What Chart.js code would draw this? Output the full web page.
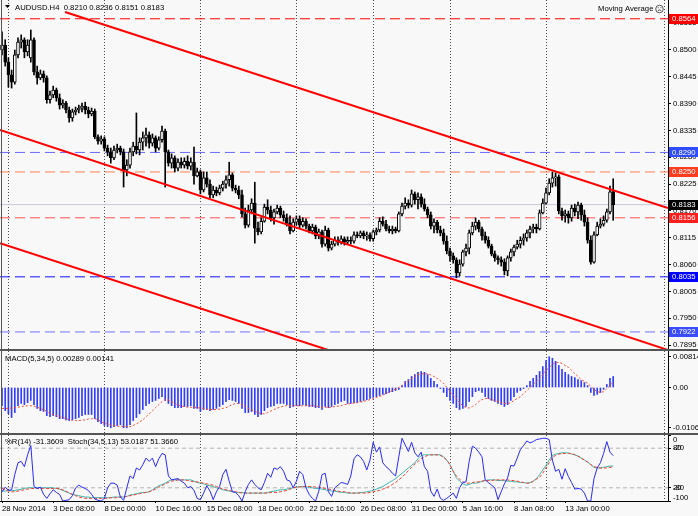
<!DOCTYPE html>
<html><head><meta charset="utf-8">
<script src="https://cdn.jsdelivr.net/npm/chart.js@4/dist/chart.umd.min.js"></script>
<style>
html,body{margin:0;padding:0;background:#f8f8f8;}
body{width:698px;height:516px;overflow:hidden;position:relative;}
canvas{position:absolute;left:0;}
.sep{position:absolute;left:0;width:698px;height:2px;background:#555;}
</style></head>
<body>
<canvas id="cMain" width="698" height="350" style="top:0"></canvas>
<canvas id="cMacd" width="698" height="82" style="top:351px"></canvas>
<canvas id="cOsc" width="698" height="81" style="top:435px"></canvas>
<div class="sep" style="top:349px"></div>
<div class="sep" style="top:433px"></div>
<div style="position:absolute;left:1px;top:0;width:1px;height:501px;background:#555"></div>
<script>
// ---------- DATA ----------
const symbolName = 'AUDUSD.H4';
const xLabels = ['28 Nov 2014','3 Dec 08:00','8 Dec 00:00','10 Dec 16:00','15 Dec 08:00','18 Dec 00:00','22 Dec 16:00','26 Dec 08:00','31 Dec 00:00','5 Jan 16:00','8 Jan 08:00','13 Jan 00:00'];
const xLabelBars = [0,16,32,48,64,80,96,112,128,144,160,176];
const weekStartBars = [2,32,62,92,116,140,170,207];
const priceTicks = [0.7895,0.7950,0.8005,0.8060,0.8115,0.8170,0.8225,0.8280,0.8335,0.8390,0.8445,0.8500,0.8555];
const hLevels = [0.8564,0.8290,0.8250,0.8156,0.8035,0.7922];
const channelUpper = [{x:19.7,y:0.8578},{x:208.1,y:0.8176}];
const channelMiddle = [{x:-0.625,y:0.8336},{x:208.125,y:0.7885}];
const channelLower = [{x:-0.625,y:0.8104},{x:101.9,y:0.7885}];
const macdTicks = [0.00814,0,-0.0106];
const macdTickLabels = ['0.00814','0.00','-0.01060'];
const oscLevels = [80,20];

const open = [
0.8500,0.8510,0.8475,0.8449,0.8434,0.8490,0.8516,0.8521,0.8496,0.8484,
0.8521,0.8455,0.8443,0.8451,0.8443,0.8398,0.8408,0.8418,0.8402,0.8387,
0.8391,0.8377,0.8361,0.8373,0.8377,0.8381,0.8385,0.8377,0.8369,0.8375,
0.8322,0.8313,0.8318,0.8299,0.8291,0.8279,0.8295,0.8299,0.8291,0.8254,
0.8264,0.8291,0.8303,0.8295,0.8311,0.8320,0.8326,0.8309,0.8320,0.8299,
0.8316,0.8334,0.8291,0.8268,0.8279,0.8258,0.8270,0.8264,0.8272,0.8262,
0.8270,0.8242,0.8250,0.8213,0.8238,0.8225,0.8203,0.8213,0.8207,0.8217,
0.8225,0.8234,0.8244,0.8217,0.8213,0.8203,0.8164,0.8141,0.8172,0.8186,
0.8135,0.8127,0.8149,0.8178,0.8172,0.8156,0.8168,0.8176,0.8162,0.8156,
0.8145,0.8129,0.8147,0.8154,0.8141,0.8149,0.8139,0.8129,0.8137,0.8119,
0.8127,0.8102,0.8131,0.8094,0.8102,0.8110,0.8106,0.8113,0.8106,0.8110,
0.8108,0.8121,0.8119,0.8125,0.8119,0.8121,0.8113,0.8127,0.8131,0.8149,
0.8143,0.8133,0.8129,0.8133,0.8129,0.8164,0.8180,0.8186,0.8182,0.8205,
0.8193,0.8199,0.8184,0.8174,0.8162,0.8139,0.8147,0.8131,0.8125,0.8108,
0.8088,0.8078,0.8070,0.8043,0.8061,0.8086,0.8094,0.8125,0.8139,0.8147,
0.8133,0.8119,0.8110,0.8098,0.8082,0.8074,0.8070,0.8065,0.8047,0.8074,
0.8086,0.8096,0.8102,0.8110,0.8115,0.8125,0.8133,0.8137,0.8133,0.8166,
0.8186,0.8207,0.8227,0.8238,0.8240,0.8170,0.8160,0.8164,0.8156,0.8176,
0.8168,0.8182,0.8162,0.8147,0.8110,0.8065,0.8121,0.8139,0.8143,0.8151,
0.8168,0.8210];
const high = [
0.8537,0.8521,0.8484,0.8459,0.8500,0.8525,0.8531,0.8525,0.8521,0.8541,
0.8525,0.8467,0.8459,0.8457,0.8447,0.8416,0.8426,0.8422,0.8410,0.8398,
0.8395,0.8383,0.8379,0.8383,0.8387,0.8391,0.8393,0.8383,0.8381,0.8379,
0.8326,0.8324,0.8322,0.8305,0.8299,0.8303,0.8307,0.8303,0.8297,0.8275,
0.8299,0.8311,0.8371,0.8320,0.8332,0.8340,0.8332,0.8328,0.8324,0.8322,
0.8344,0.8338,0.8295,0.8287,0.8283,0.8277,0.8279,0.8279,0.8283,0.8279,
0.8301,0.8258,0.8254,0.8250,0.8250,0.8234,0.8221,0.8219,0.8223,0.8231,
0.8242,0.8270,0.8248,0.8223,0.8221,0.8213,0.8176,0.8182,0.8195,0.8229,
0.8147,0.8156,0.8184,0.8193,0.8180,0.8174,0.8182,0.8180,0.8170,0.8164,
0.8160,0.8154,0.8160,0.8160,0.8156,0.8154,0.8143,0.8143,0.8141,0.8133,
0.8131,0.8139,0.8135,0.8108,0.8117,0.8117,0.8119,0.8117,0.8117,0.8117,
0.8127,0.8127,0.8129,0.8129,0.8127,0.8125,0.8131,0.8135,0.8156,0.8158,
0.8151,0.8139,0.8139,0.8137,0.8168,0.8186,0.8197,0.8193,0.8213,0.8209,
0.8207,0.8205,0.8195,0.8178,0.8168,0.8154,0.8151,0.8139,0.8133,0.8119,
0.8094,0.8084,0.8074,0.8070,0.8090,0.8102,0.8131,0.8147,0.8156,0.8151,
0.8137,0.8127,0.8117,0.8102,0.8088,0.8078,0.8076,0.8072,0.8078,0.8092,
0.8100,0.8110,0.8117,0.8123,0.8131,0.8139,0.8143,0.8143,0.8172,0.8195,
0.8217,0.8236,0.8250,0.8248,0.8244,0.8176,0.8172,0.8170,0.8182,0.8184,
0.8188,0.8186,0.8172,0.8156,0.8119,0.8127,0.8147,0.8154,0.8160,0.8174,
0.8221,0.8236];
const low = [
0.8490,0.8467,0.8424,0.8422,0.8430,0.8484,0.8504,0.8484,0.8488,0.8475,
0.8449,0.8430,0.8439,0.8434,0.8391,0.8391,0.8402,0.8395,0.8379,0.8381,
0.8371,0.8352,0.8354,0.8367,0.8371,0.8373,0.8369,0.8361,0.8365,0.8318,
0.8307,0.8307,0.8293,0.8283,0.8268,0.8275,0.8289,0.8285,0.8219,0.8242,
0.8258,0.8283,0.8287,0.8285,0.8295,0.8303,0.8299,0.8303,0.8291,0.8295,
0.8311,0.8219,0.8262,0.8258,0.8250,0.8252,0.8258,0.8258,0.8256,0.8254,
0.8225,0.8240,0.8205,0.8209,0.8219,0.8197,0.8197,0.8201,0.8203,0.8211,
0.8217,0.8221,0.8211,0.8207,0.8195,0.8158,0.8135,0.8137,0.8164,0.8104,
0.8121,0.8123,0.8147,0.8164,0.8149,0.8143,0.8164,0.8156,0.8149,0.8139,
0.8123,0.8127,0.8141,0.8135,0.8137,0.8133,0.8125,0.8123,0.8113,0.8113,
0.8096,0.8098,0.8088,0.8090,0.8098,0.8100,0.8102,0.8100,0.8102,0.8102,
0.8104,0.8115,0.8115,0.8113,0.8110,0.8108,0.8108,0.8121,0.8127,0.8139,
0.8129,0.8125,0.8123,0.8125,0.8127,0.8160,0.8174,0.8176,0.8178,0.8184,
0.8174,0.8178,0.8170,0.8156,0.8133,0.8125,0.8125,0.8119,0.8102,0.8082,
0.8067,0.8063,0.8033,0.8037,0.8057,0.8078,0.8082,0.8121,0.8131,0.8127,
0.8110,0.8104,0.8094,0.8078,0.8067,0.8061,0.8057,0.8039,0.8037,0.8067,
0.8078,0.8092,0.8094,0.8100,0.8108,0.8115,0.8125,0.8125,0.8131,0.8164,
0.8184,0.8203,0.8219,0.8221,0.8164,0.8151,0.8147,0.8145,0.8149,0.8160,
0.8154,0.8151,0.8139,0.8104,0.8061,0.8063,0.8119,0.8135,0.8139,0.8147,
0.8164,0.8151];
const close = [
0.8510,0.8475,0.8449,0.8434,0.8490,0.8516,0.8521,0.8496,0.8510,0.8521,
0.8455,0.8443,0.8451,0.8443,0.8398,0.8408,0.8418,0.8402,0.8387,0.8391,
0.8377,0.8361,0.8373,0.8377,0.8381,0.8385,0.8377,0.8369,0.8375,0.8322,
0.8313,0.8318,0.8299,0.8291,0.8279,0.8295,0.8299,0.8291,0.8254,0.8264,
0.8291,0.8303,0.8295,0.8311,0.8320,0.8326,0.8309,0.8320,0.8299,0.8316,
0.8334,0.8291,0.8268,0.8279,0.8258,0.8270,0.8264,0.8272,0.8262,0.8270,
0.8242,0.8250,0.8213,0.8238,0.8225,0.8203,0.8213,0.8207,0.8217,0.8225,
0.8234,0.8244,0.8217,0.8213,0.8203,0.8164,0.8141,0.8172,0.8186,0.8135,
0.8127,0.8149,0.8178,0.8172,0.8156,0.8168,0.8176,0.8162,0.8156,0.8145,
0.8129,0.8147,0.8154,0.8141,0.8149,0.8139,0.8129,0.8137,0.8119,0.8127,
0.8102,0.8131,0.8094,0.8102,0.8110,0.8106,0.8113,0.8106,0.8110,0.8108,
0.8121,0.8119,0.8125,0.8119,0.8121,0.8113,0.8127,0.8131,0.8149,0.8143,
0.8133,0.8129,0.8133,0.8129,0.8164,0.8180,0.8186,0.8182,0.8205,0.8193,
0.8199,0.8184,0.8174,0.8162,0.8139,0.8147,0.8131,0.8125,0.8108,0.8088,
0.8078,0.8070,0.8043,0.8061,0.8086,0.8094,0.8125,0.8139,0.8147,0.8133,
0.8119,0.8110,0.8098,0.8082,0.8074,0.8070,0.8065,0.8047,0.8074,0.8086,
0.8096,0.8102,0.8110,0.8115,0.8125,0.8133,0.8137,0.8133,0.8166,0.8186,
0.8207,0.8227,0.8238,0.8240,0.8170,0.8160,0.8164,0.8156,0.8176,0.8168,
0.8182,0.8162,0.8147,0.8110,0.8065,0.8121,0.8139,0.8143,0.8151,0.8168,
0.8209,0.8183];
const macdHist = [
-0.0048,-0.0061,-0.0069,-0.0079,-0.0066,-0.0048,-0.0042,-0.0045,-0.0040,-0.0034,
-0.0045,-0.0055,-0.0061,-0.0063,-0.0074,-0.0077,-0.0074,-0.0077,-0.0082,-0.0082,
-0.0085,-0.0087,-0.0085,-0.0082,-0.0079,-0.0074,-0.0071,-0.0071,-0.0071,-0.0082,
-0.0090,-0.0095,-0.0100,-0.0103,-0.0106,-0.0103,-0.0100,-0.0098,-0.0106,-0.0106,
-0.0098,-0.0087,-0.0079,-0.0069,-0.0058,-0.0048,-0.0042,-0.0037,-0.0034,-0.0029,
-0.0024,-0.0034,-0.0042,-0.0048,-0.0053,-0.0053,-0.0053,-0.0050,-0.0050,-0.0048,
-0.0055,-0.0055,-0.0063,-0.0058,-0.0058,-0.0061,-0.0058,-0.0055,-0.0050,-0.0045,
-0.0037,-0.0032,-0.0034,-0.0037,-0.0042,-0.0055,-0.0066,-0.0066,-0.0063,-0.0071,
-0.0077,-0.0071,-0.0061,-0.0053,-0.0050,-0.0048,-0.0042,-0.0042,-0.0042,-0.0045,
-0.0053,-0.0050,-0.0048,-0.0048,-0.0045,-0.0048,-0.0050,-0.0050,-0.0053,-0.0053,
-0.0058,-0.0050,-0.0053,-0.0050,-0.0045,-0.0042,-0.0037,-0.0034,-0.0042,-0.0042,
-0.0040,-0.0040,-0.0037,-0.0034,-0.0032,-0.0029,-0.0026,-0.0024,-0.0021,-0.0018,
-0.0016,-0.0013,-0.0011,-0.0008,-0.0005,0.0005,0.0016,0.0021,0.0029,0.0034,
0.0040,0.0042,0.0040,0.0034,0.0024,0.0016,0.0008,-0.0003,-0.0013,-0.0024,
-0.0034,-0.0042,-0.0053,-0.0058,-0.0055,-0.0050,-0.0037,-0.0024,-0.0011,-0.0008,
-0.0013,-0.0024,-0.0029,-0.0034,-0.0037,-0.0042,-0.0045,-0.0050,-0.0045,-0.0034,
-0.0024,-0.0013,-0.0008,-0.0003,0.0005,0.0016,0.0024,0.0032,0.0042,0.0055,
0.0071,0.0081,0.0077,0.0069,0.0058,0.0048,0.0040,0.0034,0.0029,0.0026,
0.0021,0.0018,0.0013,0.0005,-0.0013,-0.0021,-0.0018,-0.0013,-0.0005,0.0008,
0.0024,0.00289];
const macdSignal = [
-0.0055,-0.0055,-0.0055,-0.0054,-0.0053,-0.0052,-0.0050,-0.0049,-0.0048,-0.0048,
-0.0049,-0.0052,-0.0055,-0.0059,-0.0063,-0.0069,-0.0071,-0.0074,-0.0077,-0.0079,
-0.0082,-0.0085,-0.0086,-0.0087,-0.0087,-0.0086,-0.0085,-0.0083,-0.0082,-0.0082,
-0.0085,-0.0090,-0.0094,-0.0096,-0.0099,-0.0100,-0.0102,-0.0102,-0.0102,-0.0103,
-0.0103,-0.0100,-0.0096,-0.0091,-0.0085,-0.0077,-0.0069,-0.0061,-0.0053,-0.0045,
-0.0037,-0.0032,-0.0033,-0.0037,-0.0042,-0.0046,-0.0049,-0.0050,-0.0052,-0.0052,
-0.0052,-0.0053,-0.0054,-0.0055,-0.0057,-0.0058,-0.0058,-0.0058,-0.0057,-0.0055,
-0.0053,-0.0049,-0.0045,-0.0042,-0.0042,-0.0045,-0.0050,-0.0055,-0.0059,-0.0063,
-0.0066,-0.0069,-0.0069,-0.0066,-0.0062,-0.0058,-0.0054,-0.0052,-0.0049,-0.0048,
-0.0048,-0.0048,-0.0048,-0.0048,-0.0048,-0.0048,-0.0048,-0.0048,-0.0049,-0.0050,
-0.0052,-0.0052,-0.0052,-0.0052,-0.0050,-0.0049,-0.0048,-0.0045,-0.0044,-0.0042,
-0.0041,-0.0040,-0.0038,-0.0037,-0.0034,-0.0032,-0.0029,-0.0026,-0.0024,-0.0020,
-0.0016,-0.0012,-0.0008,-0.0004,0.0000,0.0005,0.0012,0.0018,0.0024,0.0029,
0.0034,0.0036,0.0036,0.0036,0.0033,0.0029,0.0024,0.0018,0.0011,0.0000,
-0.0011,-0.0020,-0.0029,-0.0040,-0.0048,-0.0053,-0.0054,-0.0050,-0.0045,-0.0037,
-0.0032,-0.0029,-0.0029,-0.0032,-0.0034,-0.0037,-0.0040,-0.0042,-0.0042,-0.0040,
-0.0034,-0.0029,-0.0024,-0.0016,-0.0008,0.0000,0.0008,0.0016,0.0024,0.0034,
0.0045,0.0053,0.0061,0.0065,0.0066,0.0063,0.0058,0.0053,0.0045,0.0037,
0.0029,0.0021,0.0016,0.0011,0.0003,-0.0005,-0.0011,-0.0013,-0.0011,-0.0003,
0.0005,0.00141];
const wpr = [
-86,-79,-84,-83,-60,-42,-40,-48,-30,-16,
-78,-81,-79,-90,-96,-89,-83,-87,-90,-100,
-99,-98,-92,-80,-76,-79,-81,-84,-90,-97,
-99,-100,-96,-80,-73,-73,-76,-94,-99,-80,
-62,-66,-50,-53,-45,-35,-40,-35,-48,-36,
-28,-30,-62,-68,-67,-66,-70,-73,-80,-78,
-84,-96,-98,-88,-77,-85,-98,-86,-78,-60,
-52,-70,-86,-87,-92,-100,-86,-75,-68,-75,
-80,-83,-72,-58,-64,-50,-52,-48,-55,-68,
-70,-80,-70,-55,-60,-80,-90,-96,-100,-85,
-60,-58,-86,-93,-80,-76,-72,-73,-75,-62,
-36,-30,-33,-40,-53,-38,-11,-26,-18,-42,
-48,-52,-58,-62,-33,-5,-15,-25,-11,-27,
-33,-26,-48,-55,-85,-93,-82,-96,-99,-96,
-92,-88,-96,-80,-72,-71,-40,-17,-20,-26,
-33,-68,-72,-76,-80,-98,-86,-74,-65,-46,
-47,-35,-22,-16,-9,-12,-10,-7,-6,-5,
-5,-7,-38,-55,-52,-67,-51,-63,-72,-82,
-81,-82,-88,-100,-100,-66,-50,-42,-28,-10,
-26,-31.3609];
const stochMain = [
15,15,16,16,16,17,18,19,20,20,
20,20,20,20,20,20,20,19,18,16,
14,12,10,9,8,7,6,6,5,5,
5,5,5,5,5,6,6,6,6,7,
9,10,11,12,13,13,14,17,20,23,
25,27,30,32,32,32,32,32,32,32,
30,28,27,26,24,23,22,20,19,17,
16,15,14,13,13,13,12,12,12,12,
12,12,12,13,14,15,16,17,17,18,
19,20,21,22,22,21,21,20,19,19,
18,17,16,15,15,14,13,13,12,12,
12,12,13,13,14,15,16,18,20,22,
25,28,31,34,38,42,46,50,54,58,
64,69,70,70,70,70,70,70,67,62,
55,45,35,30,26,24,25,27,27,28,
30,31,32,32,32,31,31,31,30,30,
29,29,28,28,27,28,30,34,40,47,
54,62,69,71,72,73,73,73,71,70,
68,65,62,59,55,51,50,50,51,52,
53,53.0187];
const stochSignal = [
19,17,15,14,14,15,16,17,18,19,
19,19,19,19,19,19,19,19,19,17,
15,12,10,8,6,5,4,4,4,4,
4,4,4,4,5,5,5,6,6,7,
8,9,10,11,12,13,14,16,18,21,
23,26,28,30,31,32,32,32,31,30,
29,29,28,27,26,25,24,22,20,18,
17,16,15,14,13,12,12,12,12,12,
12,12,12,12,13,13,13,14,15,16,
18,20,21,21,22,22,22,22,21,21,
20,19,18,17,16,15,14,14,13,12,
12,12,12,12,12,13,14,15,16,18,
20,22,25,28,32,36,41,46,51,56,
60,64,67,69,70,70,70,69,66,62,
55,45,38,33,29,27,27,28,29,29,
30,31,31,31,32,32,32,32,32,31,
31,30,29,28,27,27,30,33,36,42,
50,58,66,69,71,72,72,72,72,70,
68,65,62,59,55,52,51,50,50,50,
51,51.366];

// ---------- STYLE ----------
const FONT = "'Liberation Sans', Arial, sans-serif";
const FS = 7.7;
const BG = '#f8f8f8';
const X_MIN = -0.625, X_MAX = 208.125;
const levelLineColors = ['#ff0000','#6a6aff','#ff7f50','#ff5050','#1010ff','#7373ff'];
const levelBoxColors = ['#ff0000','#2f4cff','#ff3c1e','#ff1e1e','#0000ff','#3a4cff'];
Chart.defaults.font.family = FONT;
Chart.defaults.font.size = FS;
Chart.defaults.color = '#000';
const last = close.length - 1;
const idx = close.map((_, i) => i);

const bgPlugin = {id:'bg', beforeDraw(c){const g=c.ctx; g.save(); g.fillStyle=BG; g.fillRect(0,0,c.width,c.height); g.restore();}};
const gridPlugin = {id:'wg', beforeDatasetsDraw(c){
  const g=c.ctx, a=c.chartArea, x=c.scales.x;
  g.save(); g.strokeStyle='#4a4a4a'; g.lineWidth=1; g.setLineDash([1,2]);
  weekStartBars.forEach(b=>{const px=Math.round(x.getPixelForValue(b))+0.5; g.beginPath(); g.moveTo(px,a.top); g.lineTo(px,a.bottom); g.stroke();});
  g.restore();
}};
const fixY = s => { s.width = 30; s.paddingTop = 0; s.paddingBottom = 0; };
const xHidden = {type:'linear', min:X_MIN, max:X_MAX, offset:false, display:false};
const yGrid = {drawOnChartArea:false, tickLength:3, color:'#000'};

// ---------- MAIN PRICE CHART ----------
const mainPlugin = {id:'mainText', afterDraw(c){
  const g=c.ctx, y=c.scales.y;
  g.save();
  g.font = FS+'px '+FONT; g.textBaseline='middle';
  const boxes = hLevels.map((v,i)=>({v, col:levelBoxColors[i]})).concat([{v:close[last], col:'#000'}]);
  boxes.forEach(b=>{
    const py = y.getPixelForValue(b.v);
    g.fillStyle=b.col; g.fillRect(669, Math.round(py)-5, 29, 10);
    g.fillStyle='#fff'; g.fillText(b.v.toFixed(4), 672, py);
  });
  g.fillStyle='#000';
  g.beginPath(); g.moveTo(5,5); g.lineTo(10,5); g.lineTo(7.5,8); g.closePath(); g.fill();
  g.fillText(symbolName+'  '+open[last].toFixed(4)+' '+high[last].toFixed(4)+' '+low[last].toFixed(4)+' '+close[last].toFixed(4), 15, 7.5);
  g.fillText('Moving Average', 598, 9);
  g.strokeStyle='#333'; g.lineWidth=0.8;
  g.beginPath(); g.arc(659.5, 9, 3.8, 0, Math.PI*2); g.stroke();
  g.beginPath(); g.arc(659.5, 11.5, 1.6, Math.PI*1.1, Math.PI*1.9); g.stroke();
  g.fillStyle='#333'; g.fillRect(657.8,7.3,0.9,0.9); g.fillRect(660.5,7.3,0.9,0.9);
  g.restore();
}};

const levelDatasets = hLevels.map((v,i)=>({
  type:'line', data:[{x:X_MIN,y:v},{x:X_MAX,y:v}], borderColor:levelLineColors[i], borderWidth:1,
  borderDash:[10,5], pointRadius:0, order:20
}));
levelDatasets.push({type:'line', data:[{x:X_MIN,y:close[last]},{x:X_MAX,y:close[last]}], borderColor:'#c6c8d6', borderWidth:1, pointRadius:0, order:21});

const channelDatasets = [channelUpper, channelMiddle, channelLower].map(d=>({
  type:'line', data:d, borderColor:'#ff0000', borderWidth:2, pointRadius:0, order:1
}));

new Chart(document.getElementById('cMain'), {
  type:'bar',
  data:{datasets:[
    {label:'wick', data:idx.map(i=>({x:i, y:[low[i], high[i]]})), backgroundColor:'#000', barThickness:1, grouped:false, order:6},
    {label:'body', data:idx.map(i=>({x:i, y:[open[i], close[i]]})),
      backgroundColor:idx.map(i=>close[i]>=open[i]?'#ffffff':'#000000'), borderColor:'#000', borderWidth:1,
      borderSkipped:false, barThickness:3, minBarLength:1, grouped:false, order:5},
    ...levelDatasets, ...channelDatasets
  ]},
  options:{
    responsive:false, animation:false, devicePixelRatio:1,
    layout:{padding:0},
    plugins:{legend:{display:false}, tooltip:{enabled:false}},
    scales:{
      x:xHidden,
      y:{position:'right', min:0.7885, max:0.86025,
        afterBuildTicks:s=>{s.ticks = priceTicks.map(v=>({value:v}));},
        afterFit:fixY,
        ticks:{callback:v=>Number(v).toFixed(4), padding:2, font:{size:FS}},
        grid:yGrid, border:{color:'#000'}}
    }
  },
  plugins:[bgPlugin, gridPlugin, mainPlugin]
});

// ---------- MACD ----------
const macdPlugin = {id:'macdText', afterDraw(c){
  const g=c.ctx; g.save(); g.font=FS+'px '+FONT; g.textBaseline='middle'; g.fillStyle='#000';
  g.fillText('MACD(5,34,5) '+macdHist[last].toFixed(5)+' '+macdSignal[last].toFixed(5), 5, 8);
  g.restore();
}};
new Chart(document.getElementById('cMacd'), {
  type:'bar',
  data:{datasets:[
    {data:idx.map(i=>({x:i, y:macdHist[i]})), backgroundColor:'#2f3cff', barThickness:1, order:2},
    {type:'line', data:idx.map(i=>({x:i, y:macdSignal[i]})), borderColor:'#ff4a2a', borderWidth:1, borderDash:[2,2], pointRadius:0, order:1}
  ]},
  options:{
    responsive:false, animation:false, devicePixelRatio:1, layout:{padding:0},
    plugins:{legend:{display:false}, tooltip:{enabled:false}},
    scales:{
      x:xHidden,
      y:{position:'right', min:-0.011974, max:0.009605,
        afterBuildTicks:s=>{s.ticks = macdTicks.map(v=>({value:v}));},
        afterFit:fixY,
        ticks:{callback:(v,i)=>macdTickLabels[i], padding:2, font:{size:FS}},
        grid:yGrid, border:{color:'#000'}}
    }
  },
  plugins:[bgPlugin, gridPlugin, macdPlugin]
});

// ---------- %R + Stochastic ----------
const oscPlugin = {id:'oscText', afterDraw(c){
  const g=c.ctx, y=c.scales.y; g.save(); g.font=FS+'px '+FONT; g.textBaseline='middle'; g.fillStyle='#000';
  g.fillText('%R(14) '+wpr[last].toFixed(4)+'  Stoch(34,5,13) '+stochMain[last].toFixed(4)+' '+stochSignal[last].toFixed(4), 5, 7);
  g.fillText('0', 673, y.getPixelForValue(100)+4.5);
  g.fillText('80', 673, y.getPixelForValue(80)); g.fillText('-20', 673, y.getPixelForValue(80));
  g.fillText('20', 673, y.getPixelForValue(20)); g.fillText('-80', 673, y.getPixelForValue(20));
  g.fillText('-100', 673, y.getPixelForValue(0)-3.5);
  g.restore();
}};
new Chart(document.getElementById('cOsc'), {
  type:'line',
  data:{datasets:[
    ...oscLevels.map(v=>({data:[{x:X_MIN,y:v},{x:X_MAX,y:v}], borderColor:'#b4b4b4', borderWidth:1, borderDash:[4,3], pointRadius:0, yAxisID:'y', order:5})),
    {data:idx.map(i=>({x:i, y:stochMain[i]})), borderColor:'#3cb8b0', borderWidth:1, pointRadius:0, yAxisID:'y', order:3},
    {data:idx.map(i=>({x:i, y:stochSignal[i]})), borderColor:'#ff3a2a', borderWidth:1, borderDash:[3,2], pointRadius:0, yAxisID:'y', order:2},
    {data:idx.map(i=>({x:i, y:wpr[i]})), borderColor:'#2a2aff', borderWidth:1, pointRadius:0, yAxisID:'yw', order:1}
  ]},
  options:{
    responsive:false, animation:false, devicePixelRatio:1, layout:{padding:0},
    plugins:{legend:{display:false}, tooltip:{enabled:false}},
    scales:{
      x:{type:'linear', min:X_MIN, max:X_MAX, offset:false, position:'bottom',
        afterBuildTicks:s=>{s.ticks = xLabelBars.map(v=>({value:v}));},
        afterFit:s=>{s.height=15; s.paddingLeft=0; s.paddingRight=0;},
        ticks:{autoSkip:false, maxRotation:0, minRotation:0, align:'start', padding:1,
          callback:(v,i)=>xLabels[i], font:{size:FS}},
        grid:{drawOnChartArea:false, tickLength:2, color:'#000'}, border:{color:'#000'}},
      y:{position:'right', min:0, max:100,
        afterBuildTicks:s=>{s.ticks=[100,80,20,0].map(v=>({value:v}));},
        afterFit:fixY, ticks:{display:false}, grid:yGrid, border:{color:'#000'}},
      yw:{position:'right', min:-100, max:0, display:false}
    }
  },
  plugins:[bgPlugin, gridPlugin, oscPlugin]
});
</script>
</body></html>
